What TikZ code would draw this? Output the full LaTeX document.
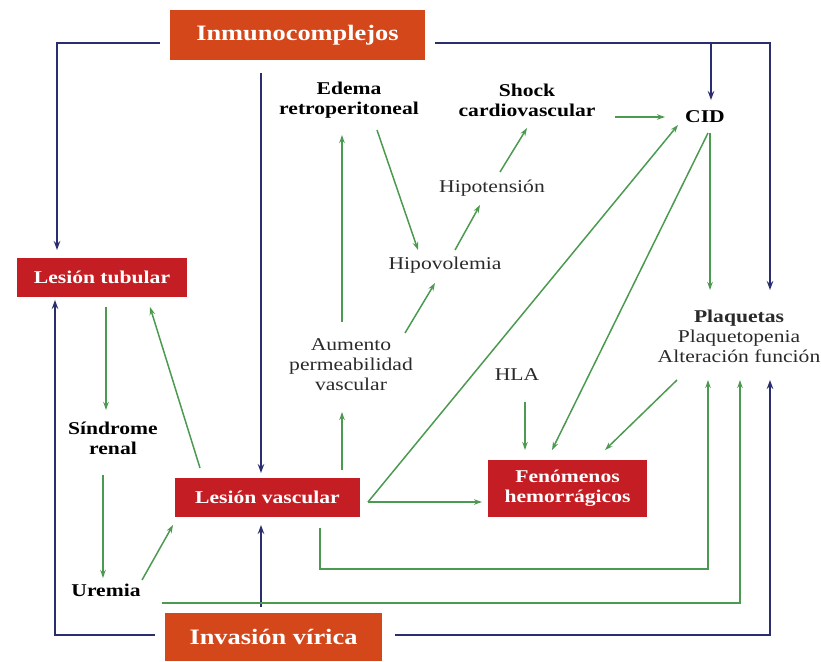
\documentclass[tikz,border=0pt]{standalone}
\usepackage{fontspec}
\setmainfont[FakeStretch=1.2]{Liberation Serif}
\usetikzlibrary{arrows.meta}
\definecolor{boxred}{HTML}{C41E24}
\definecolor{boxorange}{HTML}{D4471B}
\definecolor{navy}{HTML}{2A2E6E}
\definecolor{lgreen}{HTML}{4C9A50}
\definecolor{txt}{HTML}{2A2A2A}
\tikzset{
  redbox/.style={fill=boxred, text=white, font=\fontsize{18}{20}\selectfont\bfseries, align=center, inner sep=0pt},
  orbox/.style={fill=boxorange, text=white, font=\fontsize{22}{24}\selectfont\bfseries, inner sep=0pt},
  lab/.style={text=txt, font=\fontsize{18}{20}\selectfont, align=center, inner sep=0pt},
  blab/.style={text=black, font=\fontsize{18}{20}\selectfont\bfseries, align=center, inner sep=0pt},
  garrow/.style={draw=lgreen, line width=1.5pt, -{Stealth[length=8pt,width=5.5pt]}},
  barrow/.style={draw=navy, line width=2pt, -{Stealth[length=9pt,width=6.5pt]}},
}
\begin{document}
\begin{tikzpicture}[x=1pt,y=-1pt]
\useasboundingbox (0,0) rectangle (821,661);
% boxes
\node[orbox, minimum width=255, minimum height=50] (inmuno) at (297.5,35) {Inmunocomplejos};
\node[orbox, minimum width=217, minimum height=48] (inv) at (273.5,637) {Invasión vírica};
\node[redbox, minimum width=170, minimum height=39] (lt) at (102,277.5) {Lesión tubular};
\node[redbox, minimum width=185, minimum height=39] (lv) at (267.5,497.5) {Lesión vascular};
\node[redbox, minimum width=159, minimum height=57] (fen) at (567.5,488.5) {Fenómenos\\hemorrágicos};
% labels
\node[blab] (edema) at (349,100) {Edema\\retroperitoneal};
\node[blab] (shock) at (527,100) {Shock\\cardiovascular};
\node[blab] (cid) at (705,117) {CID};
\node[lab] (hipoten) at (492,188) {Hipotensión};
\node[lab] (hipovol) at (445,265) {Hipovolemia};
\node[lab] (aum) at (351,365) {Aumento\\permeabilidad\\vascular};
\node[lab] (hla) at (517,375) {HLA};
\node[lab] (plaq) at (739,336) {\textbf{Plaquetas}\\Plaquetopenia\\Alteración función};
\node[blab] (sin) at (113,438) {Síndrome\\renal};
\node[blab] (ure) at (106,590) {Uremia};
% coordinates
\coordinate (iL) at (160,43);
\coordinate (iR) at (435,43);
\coordinate (cidTop) at (711,43);
\coordinate (cidIn) at (711,100);
\coordinate (cidBot) at (710,133);
\coordinate (vTop) at (261,73);
\coordinate (vBot) at (261,473);
\coordinate (ltTop) at (57,250);
\coordinate (ltBot) at (55,300);
\coordinate (pTopA) at (710,290);
\coordinate (pTopB) at (770,290);
\coordinate (pBotA) at (708,380);
\coordinate (pBotB) at (740,380);
\coordinate (pBotC) at (770,380);
\coordinate (lvR) at (368,502);
\coordinate (lvB) at (320,528);
\coordinate (lvBc) at (261,525);
\coordinate (ureR) at (162,603);
\coordinate (invL) at (155,635);
\coordinate (invR) at (395,635);
\coordinate (invT) at (261,607);
% blue connectors
\draw[barrow] (iL) -| (ltTop);
\draw[barrow] (iR) -| (pTopB);
\draw[barrow] (cidTop) -- (cidIn);
\draw[barrow] (vTop) -- (vBot);
\draw[barrow] (invT) -- (lvBc);
\draw[barrow] (invL) -| (ltBot);
\draw[barrow] (invR) -| (pBotC);
% green connectors
\draw[garrow] (377,130) -- (418,250);
\draw[garrow] (455,250) -- (480,205);
\draw[garrow] (500,172) -- (527,128);
\draw[garrow] (615,117) -- (665,117);
\draw[garrow] (342,322) -- (342,135);
\draw[garrow] (405,333) -- (435,283);
\draw[garrow] (342,470) -- (342,412);
\draw[garrow] (lvR) -- (678,125);
\draw[garrow] (lvR) -- (482,502);
\draw[garrow] (525,402) -- (525,450);
\draw[garrow] (708,133) -- (552,450);
\draw[garrow] (677,380) -- (605,450);
\draw[garrow] (cidBot) -- (pTopA);
\draw[garrow] (106,307) -- (106,410);
\draw[garrow] (200,468) -- (150,307);
\draw[garrow] (103,475) -- (103,578);
\draw[garrow] (142,580) -- (173,525);
\draw[garrow] (lvB) |- (708,569) -- (pBotA);
\draw[garrow] (ureR) -| (pBotB);
\end{tikzpicture}
\end{document}
